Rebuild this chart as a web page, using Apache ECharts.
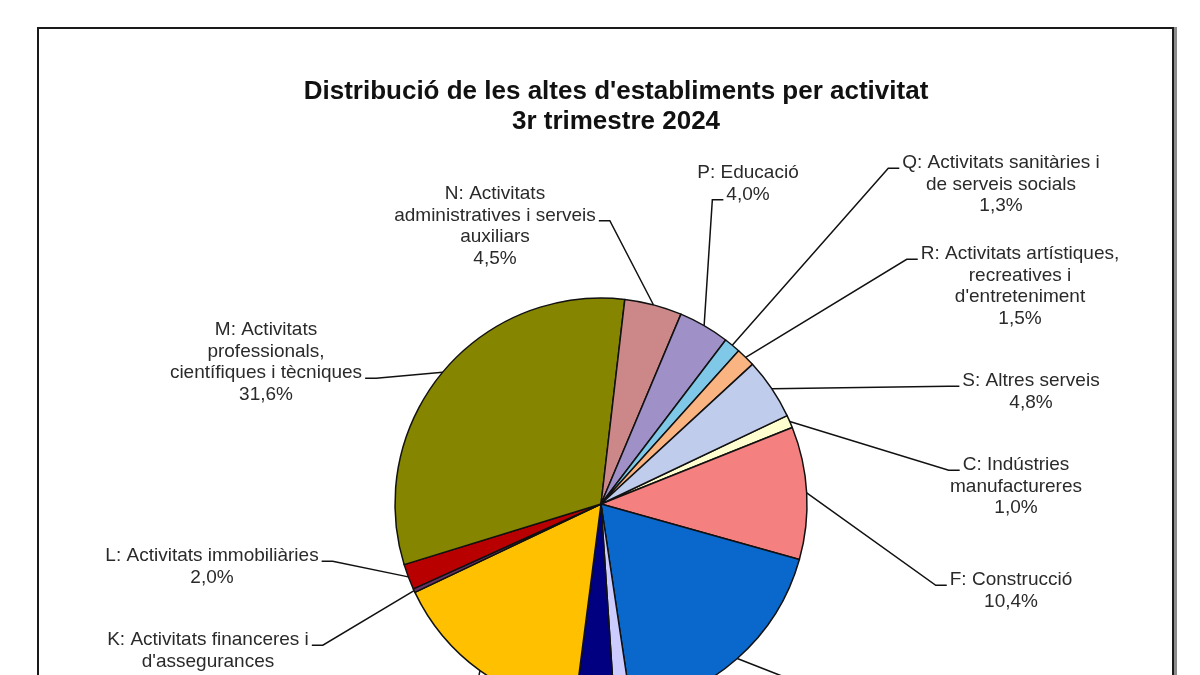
<!DOCTYPE html>
<html lang="ca">
  <head>
    <meta charset="UTF-8" />
    <title>Distribució de les altes d'establiments per activitat</title>
    <script src="https://cdn.jsdelivr.net/npm/echarts@6.0.0/dist/echarts.min.js"></script>
    <style>
      html, body { margin: 0; padding: 0; background: #fff; overflow: hidden; }
      #frame {
        position: absolute; left: 37px; top: 27px; width: 1133px; height: 900px;
        border: 2px solid #1a1a1a; box-shadow: 3px 0 0 #8c8c8c;
      }
      #pieChart { position: absolute; left: 0; top: 0; width: 1200px; height: 950px; }
    </style>
  </head>
  <body>
    <div id="frame"></div>
    <div id="pieChart"></div>

    <script type="text/javascript">
      // categories in the order Excel draws them (clockwise, starting at C)
      const sections = ["C", "F", "G", "H", "I", "J", "K", "L", "M", "N", "P", "Q", "R", "S"];
      const sectionNames = [
        "C: Indústries\nmanufactureres",
        "F: Construcció",
        "G: Comerç a l'engròs i al detall",
        "H: Transport i emmagatzematge",
        "I: Hostaleria",
        "J: Informació i comunicacions",
        "K: Activitats financeres i\nd'assegurances",
        "L: Activitats immobiliàries",
        "M: Activitats\nprofessionals,\ncientífiques i tècniques",
        "N: Activitats\nadministratives i serveis\nauxiliars",
        "P: Educació",
        "Q: Activitats sanitàries i\nde serveis socials",
        "R: Activitats artístiques,\nrecreatives i\nd'entreteniment",
        "S: Altres serveis",
      ];
      // share of new establishments, %
      const shares = [1.0, 10.4, 18.3, 1.3, 3.1, 15.9, 0.3, 2.0, 31.6, 4.5, 4.0, 1.3, 1.5, 4.8];
      const sliceColors = [
        "#FFFFD0", "#F58080", "#0A68CC", "#CCCCFF", "#000080", "#FFC000", "#663366",
        "#B80000", "#858500", "#CC8888", "#A090C8", "#80C8E8", "#FAB482", "#C0CCEC",
      ];

      // label placement: [centre x, centre y of first line, line the leader attaches to]
      const labelPos = [
        [1016, 465, 0], [1011, 580, 0], [1000, 700, 0], [700, 800, 0], [560, 810, 0],
        [330, 720, 0], [208, 640, 0], [212, 556, 0], [266, 330, 2], [495, 194, 1],
        [748, 173, 1], [1001, 163, 0], [1020, 254, 0], [1031, 381, 0],
      ];

      const pieCenter = [601, 504];
      const pieRadius = 206;
      const fontSize = 19;
      const lineH = 21.5;
      const fontFamily = "'Liberation Sans', Arial, sans-serif";

      const measureCtx = document.createElement("canvas").getContext("2d");
      measureCtx.font = fontSize + "px " + fontFamily;

      function pct(v) {
        return v.toFixed(1).replace(".", ",") + "%";
      }
      function labelText(i) {
        return sectionNames[i] + "\n" + pct(shares[i]);
      }

      const pieChart = echarts.init(document.getElementById("pieChart"));

      let pieOptions = {
        animation: false,
        title: {
          text: "Distribució de les altes d'establiments per activitat\n3r trimestre 2024",
          left: 611,
          top: 72,
          textAlign: "center",
          textStyle: {
            fontFamily: fontFamily,
            fontSize: 26,
            fontWeight: "bold",
            lineHeight: 30,
            color: "#111",
          },
        },
        color: sliceColors,
        series: [
          {
            type: "pie",
            center: pieCenter,
            radius: pieRadius,
            startAngle: 25.4,
            clockwise: true,
            avoidLabelOverlap: false,
            itemStyle: { borderColor: "#111", borderWidth: 1.5 },
            label: {
              show: true,
              position: "outside",
              formatter: (p) => labelText(p.dataIndex),
              fontFamily: fontFamily,
              fontSize: fontSize,
              lineHeight: lineH,
              color: "#2a2a2a",
              align: "center",
            },
            labelLine: {
              show: true,
              lineStyle: { color: "#111", width: 1.5 },
            },
            labelLayout: (params) => {
              const i = params.dataIndex;
              const [cx, y1, li] = labelPos[i];
              const top = y1 - lineH / 2;
              const lines = labelText(i).split("\n");
              const w = measureCtx.measureText(lines[li]).width;
              const onRight = cx > pieCenter[0];
              const ay = top + li * lineH + 16;
              const ax = onRight ? cx - w / 2 - 3 : cx + w / 2 + 3;
              const bx = onRight ? ax - 11 : ax + 11;
              const p0 = params.labelLinePoints[0];
              return {
                x: cx,
                y: top,
                align: "center",
                verticalAlign: "top",
                labelLinePoints: [p0, [bx, ay], [ax, ay]],
              };
            },
            data: sections.map((s, i) => ({ name: s, value: shares[i] })),
          },
        ],
      };

      pieChart.setOption(pieOptions);
    </script>
  </body>
</html>
